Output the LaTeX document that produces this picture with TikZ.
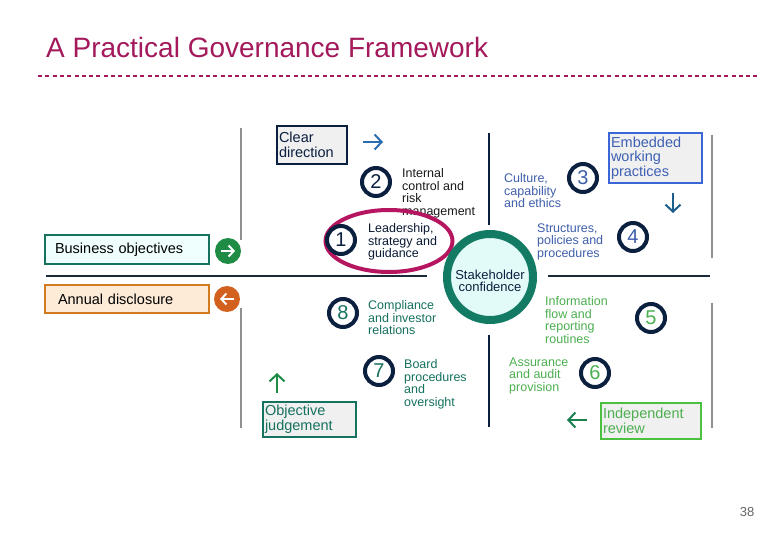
\documentclass[tikz,border=0pt]{standalone}
\usepackage{fontspec}
\setmainfont{Liberation Sans}
\usetikzlibrary{arrows.meta,shapes.geometric}
\definecolor{titlemag}{HTML}{A3195B}
\definecolor{navy}{HTML}{0B1F3F}
\definecolor{bluetxt}{HTML}{3F5FAA}
\definecolor{bluebox}{HTML}{3A66D8}
\definecolor{tealc}{HTML}{16715F}
\definecolor{greenc}{HTML}{4CAF50}
\definecolor{greenbox}{HTML}{4CC040}
\definecolor{crim}{HTML}{B5165F}
\definecolor{ringteal}{HTML}{137A63}
\definecolor{ringfill}{HTML}{E2FBF9}
\definecolor{boxgray}{HTML}{F0F0F0}
\definecolor{bizfill}{HTML}{EFFFFE}
\definecolor{bizgreen}{HTML}{1E8C45}
\definecolor{orangeb}{HTML}{D27A1E}
\definecolor{peach}{HTML}{FDEAD7}
\definecolor{orangec}{HTML}{D2601E}
\definecolor{arrowblue}{HTML}{2A6DAE}
\definecolor{arrowdown}{HTML}{1C5E8C}
\definecolor{arrowleft}{HTML}{1A8050}
\definecolor{grayline}{HTML}{909090}
\definecolor{darkline}{HTML}{1A2A3A}
\begin{document}
\begin{tikzpicture}[x=1pt,y=-1pt,
  lbl/.style={anchor=north west, inner sep=0pt, align=left, font=\fontsize{12.5}{12.5}\selectfont},
  numc/.style={circle, draw=navy, line width=4pt, minimum size=28pt, inner sep=0pt, font=\fontsize{20}{20}\selectfont},
  tagbox/.style={draw, line width=2.5pt, fill=boxgray, inner sep=2pt, align=left, font=\fontsize{14.5}{14.5}\selectfont},
  sidebox/.style={draw, line width=2.5pt, inner ysep=0pt, minimum width=164pt, align=left, font=\fontsize{14.5}{14.5}\selectfont},
  iconc/.style={circle, minimum size=26pt, inner sep=0pt},
  flowarrow/.style={line width=2pt, -{Straight Barb[length=7pt,width=15pt,line width=2pt]}},
  iconarrow/.style={white, line width=2pt, -{Straight Barb[length=5pt,width=11pt,line width=2pt]}},
  vgray/.style={grayline, line width=1.3pt},
  vdark/.style={navy, line width=1.5pt},
  hline/.style={darkline, line width=1.5pt}]
\useasboundingbox (0,0) rectangle (780,540);
\fill[white] (0,0) rectangle (780,540);

% title
\node[anchor=base west, inner sep=0pt, text=titlemag, font=\fontsize{28}{28}\selectfont] (title) at (46,58) {A Practical Governance Framework};
\coordinate (dl) at (38,76);
\coordinate (dr) at (757,76);
\draw[titlemag, line width=2.2pt, dash pattern=on 4pt off 3.3pt] (dl) -- (dr);

% grid lines
\coordinate (l1a) at (241,128); \coordinate (l1b) at (241,240);
\coordinate (l2a) at (241,308); \coordinate (l2b) at (241,428);
\coordinate (c1a) at (489,133); \coordinate (c1b) at (489,225);
\coordinate (c2a) at (489,335); \coordinate (c2b) at (489,427);
\coordinate (r1a) at (712,135); \coordinate (r1b) at (712,258);
\coordinate (r2a) at (712,303); \coordinate (r2b) at (712,428);
\coordinate (h1a) at (46,276); \coordinate (h1b) at (427,276);
\coordinate (h2a) at (548,276); \coordinate (h2b) at (710,276);
\draw[vgray] (l1a) -- (l1b);
\draw[vgray] (l2a) -- (l2b);
\draw[vdark] (c1a) -- (c1b);
\draw[vdark] (c2a) -- (c2b);
\draw[vgray] (r1a) -- (r1b);
\draw[vgray] (r2a) -- (r2b);
\draw[hline] (h1a) -- (h1b);
\draw[hline] (h2a) -- (h2b);

% labels
\node[lbl, text=black!90] (tint) at (402,168.5) {Internal\\control and\\risk\\management};
\node[lbl, text=navy!80!black] (tlead) at (368,223.5) {Leadership,\\strategy and\\guidance};
\node[lbl, text=bluetxt] (tcult) at (504,173.5) {Culture,\\capability\\and ethics};
\node[lbl, text=bluetxt] (tstruc) at (537,223.5) {Structures,\\policies and\\procedures};
\node[lbl, text=tealc] (tcomp) at (368,300.5) {Compliance\\and investor\\relations};
\node[lbl, text=tealc] (tboard) at (404,359.5) {Board\\procedures\\and\\oversight};
\node[lbl, text=greenc] (tinfo) at (545,296.5) {Information\\flow and\\reporting\\routines};
\node[lbl, text=greenc] (tassur) at (509,357.5) {Assurance\\and audit\\provision};

% ellipse and central circle
\node[ellipse, draw=crim, line width=4pt, minimum width=127pt, minimum height=62pt, inner sep=0pt] (ell) at (389,241) {};
\node[circle, draw=ringteal, fill=ringfill, line width=8pt, minimum size=86pt, inner sep=0pt] (ring) at (490,277) {};
\node[align=center, inner sep=0pt, text=navy, font=\fontsize{13}{12.5}\selectfont] (stake) at (490,281) {Stakeholder\\confidence};

% numbered circles
\node[numc, text=navy] (n1) at (341,240) {1};
\node[numc, text=navy] (n2) at (376,182) {2};
\node[numc, text=bluetxt] (n3) at (583,178) {3};
\node[numc, text=bluetxt] (n4) at (633,237) {4};
\node[numc, text=greenc] (n5) at (651,318) {5};
\node[numc, text=greenc] (n6) at (595,373) {6};
\node[numc, text=tealc] (n7) at (379,371) {7};
\node[numc, text=tealc] (n8) at (343,313) {8};

% corner boxes
\node[tagbox, draw=navy, text=navy, minimum width=70pt, minimum height=38pt, text width=66pt] (clear) at (312,145) {Clear\\direction};
\node[tagbox, draw=bluebox, text=bluetxt!80!bluebox, minimum width=93pt, minimum height=50pt, text width=89pt] (embed) at (655.5,158) {Embedded\\working\\practices};
\node[tagbox, draw=tealc, text=tealc, minimum width=93pt, minimum height=35pt, text width=89pt] (objj) at (309.5,419.5) {Objective\\judgement};
\node[tagbox, draw=greenbox, text=greenc, minimum width=100pt, minimum height=36pt, text width=96pt] (indep) at (651,421) {Independent\\review};

% flow arrows
\coordinate (a1s) at (363,142); \coordinate (a1e) at (383,142);
\coordinate (a2s) at (673,193); \coordinate (a2e) at (673,213);
\coordinate (a3s) at (277,393); \coordinate (a3e) at (277,373);
\coordinate (a4s) at (587,420); \coordinate (a4e) at (567,420);
\draw[flowarrow, arrowblue] (a1s) -- (a1e);
\draw[flowarrow, arrowdown] (a2s) -- (a2e);
\draw[flowarrow, bizgreen] (a3s) -- (a3e);
\draw[flowarrow, arrowleft] (a4s) -- (a4e);

% side boxes
\node[sidebox, draw=tealc, fill=bizfill, minimum height=29pt, inner xsep=10pt, text width=144pt] (biz) at (127,249.5) {Business objectives};
\node[sidebox, draw=orangeb, fill=peach, minimum height=28pt, inner xsep=13pt, text width=138pt] (annual) at (127,299) {Annual disclosure};
\node[iconc, fill=bizgreen] (gi) at (228,251) {};
\node[iconc, fill=orangec] (oi) at (227,299) {};
\draw[iconarrow] ([xshift=-7pt]gi.center) -- ([xshift=7pt]gi.center);
\draw[iconarrow] ([xshift=7pt]oi.center) -- ([xshift=-7pt]oi.center);

% page number
\node[inner sep=0pt, text=black!60, font=\fontsize{13}{13}\selectfont] (page) at (747,512) {38};
\end{tikzpicture}
\end{document}
